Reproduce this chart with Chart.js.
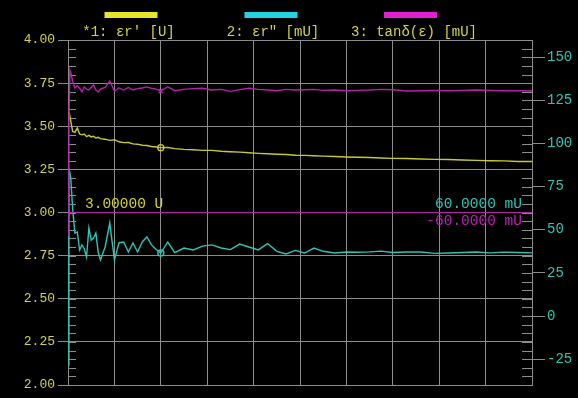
<!DOCTYPE html>
<html>
<head>
<meta charset="utf-8">
<script src="https://cdn.jsdelivr.net/npm/chart.js@4/dist/chart.umd.min.js"></script>
<style>
html,body{margin:0;padding:0;background:#000;}
canvas{display:block;}
</style>
</head>
<body>
<canvas id="c" width="578" height="398"></canvas>
<script>
// sweep position (arbitrary units, 0..1000)
const sweep = [0,2,4,6,10,15,20,25,30,35,40,45,50,55,60,65,70,80,90,100,110,120,130,140,150,160,170,180,190,200,215,230,250,270,290,310,330,350,370,390,410,430,450,470,490,510,530,550,575,600,625,650,675,700,730,760,790,820,850,880,910,940,970,1000];

// trace 1: er' [U] (left axis)
const erReal = [3.58,3.575,3.56,3.53,3.47,3.465,3.49,3.455,3.45,3.455,3.44,3.447,3.438,3.442,3.432,3.436,3.428,3.425,3.418,3.422,3.41,3.405,3.406,3.398,3.396,3.39,3.388,3.383,3.38,3.376,3.377,3.37,3.366,3.364,3.36,3.36,3.355,3.352,3.35,3.346,3.343,3.341,3.338,3.336,3.332,3.331,3.329,3.327,3.325,3.322,3.32,3.319,3.316,3.314,3.313,3.31,3.308,3.307,3.304,3.302,3.30,3.299,3.296,3.296];

// trace 2: er" [mU] (right axis)
const erImag = [-28.4,85.8,83,80,62,48,48.7,38.3,41.2,39,34.2,51,44,45.2,48.1,37.1,32.5,40,53.9,32.5,42.5,42.9,37.1,42.3,37.1,42.9,45.8,41.2,38.5,36.5,42.9,36.7,39.4,38.3,40.5,41.2,39.4,38.5,41.7,40.0,38.3,42.0,37.5,36.0,38.0,36.5,39.4,37.5,36.5,37.1,37.0,37.2,37.6,36.8,37.1,37.1,36.3,36.5,36.8,37.1,36.6,37.0,36.8,36.6];

// trace 3: tan delta [mU] (right axis)
const tanDelta = [47,110,142.5,141,136,132.2,133.5,132,129.9,132.8,131.5,131,132.5,133.9,131,129.9,131.5,132.5,136.2,130.4,132.2,131,132.5,131,131.8,132.2,132.8,132,131.5,130.4,132.9,130.6,131.4,131.8,132,131,131.4,130.2,131.2,132,131.4,131,130.6,131.4,131,131.2,131.4,130.8,131,130.6,130.8,131,131.4,131.2,130.4,130.6,130.8,130.6,130.8,131,130.8,130.6,130.6,130.4];

// reference line value (left axis) and marker position
const refLevel = 3.0;
const refSweep = [0, 1000];
const markerAt = 200;

// axis tick labels
const leftTicks = [2.00,2.25,2.50,2.75,3.00,3.25,3.50,3.75,4.00];
const rightTicks = [-25,0,25,50,75,100,125,150];

// legend / annotation texts
const legendLabels = ["*1: \u03b5r' [U]", '2: \u03b5r" [mU]', "3: tan\u03b4(\u03b5) [mU]"];
const refLabels = ["3.00000 U", "60.0000 mU", "-60.0000 mU"];

const YEL = '#c8c832', CYA = '#2fc4b4', MAG = '#b424a8';
const GRID = '#8c8c8c';
const MONO = '"Liberation Mono", "DejaVu Sans Mono", monospace';

const pts = (xs, ys) => xs.map((x, i) => ({x: x, y: ys[i]}));
const markerRadius = ctx => (ctx.raw && ctx.raw.x === markerAt) ? 3 : 0;

const overlay = {
  id: 'overlay',
  beforeDatasetsDraw(chart) {
    const c = chart.ctx, a = chart.chartArea;
    const yl = chart.scales.y, yr = chart.scales.y2;
    c.save();
    c.strokeStyle = GRID; c.lineWidth = 1;
    c.beginPath();
    for (let v = 2.0; v <= 4.0001; v += 0.05) {
      const y = Math.round(yl.getPixelForValue(v)) + 0.5;
      c.moveTo(a.left, y); c.lineTo(a.left + 8, y);
    }
    for (let v = -40; v <= 160; v += 5) {
      const y = Math.round(yr.getPixelForValue(v)) + 0.5;
      c.moveTo(a.right - 10, y); c.lineTo(a.right, y);
    }
    c.stroke();
    c.restore();
  },
  afterDraw(chart) {
    const c = chart.ctx, a = chart.chartArea;
    const yl = chart.scales.y;
    c.save();
    // legend
    const cols = ['#e6e62a', '#22d4e0', '#e020d0'];
    const barCenters = [130.5, 270.5, 410];
    const textCenters = [128.5, 273, 414];
    c.font = '14px ' + MONO;
    c.textAlign = 'center'; c.textBaseline = 'middle';
    barCenters.forEach((cx, i) => {
      c.fillStyle = cols[i];
      c.fillRect(cx - 26, 12, 53, 6);
      c.fillStyle = '#d2d24a';
      c.fillText(legendLabels[i], textCenters[i], 32);
    });
    // reference annotations
    const yRef = yl.getPixelForValue(refLevel);
    c.font = '14.5px ' + MONO;
    c.textAlign = 'left';
    c.fillStyle = '#d2d232';
    c.fillText(refLabels[0], a.left + 17, yRef - 8);
    c.textAlign = 'right';
    c.fillStyle = '#2fc4b4';
    c.fillText(refLabels[1], a.right - 10, yRef - 8);
    c.fillStyle = '#c020b8';
    c.fillText(refLabels[2], a.right - 10, yRef + 9);
    c.restore();
  }
};

new Chart(document.getElementById('c'), {
  type: 'line',
  data: {
    datasets: [
      {label: 'ref', data: pts(refSweep, [refLevel, refLevel]), yAxisID: 'y', borderColor: MAG, borderWidth: 1, pointRadius: 0},
      {label: legendLabels[2], data: pts(sweep, tanDelta), yAxisID: 'y2', borderColor: MAG, borderWidth: 1.4, pointRadius: markerRadius, pointStyle: 'crossRot', pointBorderColor: MAG, pointBackgroundColor: 'transparent'},
      {label: legendLabels[1], data: pts(sweep, erImag), yAxisID: 'y2', borderColor: CYA, borderWidth: 1.4, pointRadius: markerRadius, pointBorderColor: CYA, pointBackgroundColor: 'transparent'},
      {label: legendLabels[0], data: pts(sweep, erReal), yAxisID: 'y', borderColor: YEL, borderWidth: 1.4, pointRadius: markerRadius, pointBorderColor: YEL, pointBackgroundColor: 'transparent'}
    ]
  },
  options: {
    responsive: false,
    animation: false,
    devicePixelRatio: 1,
    layout: {padding: {top: 40, bottom: 13, left: 0, right: 0}},
    plugins: {legend: {display: false}, tooltip: {enabled: false}, title: {display: false}},
    elements: {line: {tension: 0}},
    scales: {
      x: {
        type: 'linear', min: 0, max: 1000,
        ticks: {display: false, stepSize: 100},
        grid: {color: GRID, drawTicks: false, lineWidth: 1},
        border: {color: GRID},
        afterFit(s) { s.height = 0; }
      },
      y: {
        position: 'left', min: 2, max: 4,
        afterBuildTicks(s) { s.ticks = leftTicks.map(v => ({value: v})); },
        ticks: {color: '#d2d24a', font: {family: MONO, size: 13}, padding: 3, callback: v => Number(v).toFixed(2)},
        grid: {color: GRID, tickLength: 10, lineWidth: 1},
        border: {color: GRID},
        afterFit(s) { s.width = 68; }
      },
      y2: {
        position: 'right', min: -40, max: 160,
        afterBuildTicks(s) { s.ticks = rightTicks.map(v => ({value: v})); },
        ticks: {color: '#2fc4b4', font: {family: MONO, size: 14}, padding: 2, callback: v => String(v)},
        grid: {drawOnChartArea: false, color: GRID, tickLength: 13},
        border: {color: GRID},
        afterFit(s) { s.width = 46; }
      }
    }
  },
  plugins: [overlay]
});
</script>
</body>
</html>
